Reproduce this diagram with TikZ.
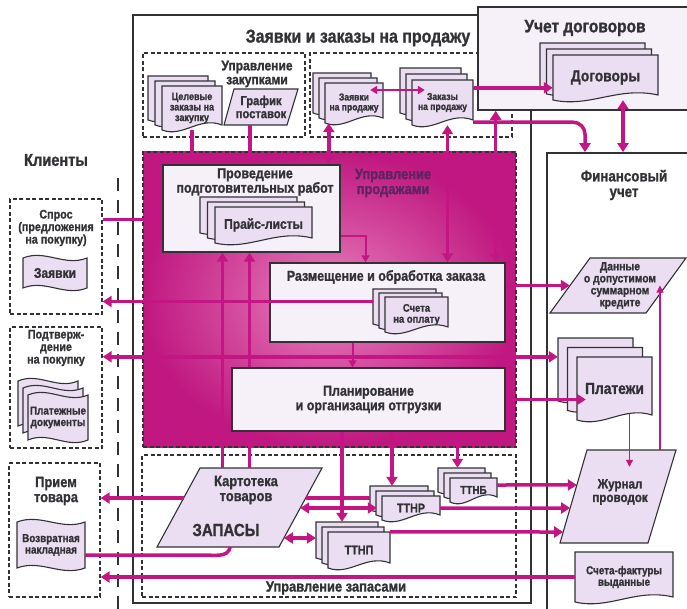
\documentclass[tikz,border=0pt]{standalone}
\usepackage{fontspec}
\setmainfont{Liberation Sans Bold}[FakeStretch=0.86, FakeBold=1.2]
\usepackage{tikz}
\usetikzlibrary{arrows.meta,calc,positioning}
\definecolor{mag}{RGB}{196,22,130}
\definecolor{magD}{RGB}{192,24,128}
\definecolor{magL}{RGB}{232,128,190}
\definecolor{lav}{RGB}{236,222,242}
\definecolor{lavL}{RGB}{246,240,249}
\definecolor{ink}{RGB}{50,50,54}
\definecolor{plum}{RGB}{92,36,96}
\newcommand{\fs}[1]{\fontsize{#1}{#1}\selectfont}
\tikzset{
  sheet/.style={ draw=ink, fill=lav, line width=1.1pt }
}
\tikzset{
  doclbl/.style={ inner sep=0pt, align=center, text=ink }
}
\tikzset{
  lbl/.style={ inner sep=0pt, align=center, text=ink }
}
\tikzset{
  procbox/.style={ draw=ink, fill=lavL, line width=1.4pt, inner sep=0pt }
}
\tikzset{
  dashbox/.style={ draw=ink, dash pattern=on 4pt off 2.5pt, line width=1.3pt, inner sep=0pt }
}
\tikzset{
  frame/.style={ draw=ink, line width=1.6pt, inner sep=0pt }
}
\tikzset{
  clientline/.style={ draw=ink, dash pattern=on 13pt off 9pt, line width=1.5pt }
}
\tikzset{
  lnk/.style={ draw=mag, line width=3.5pt },
  arr/.style={ lnk, -{Triangle[length=9pt,width=11pt]} },
  arrd/.style={ lnk, {Triangle[length=9pt,width=11pt]}-{Triangle[length=9pt,width=11pt]} },
  arrm/.style={ draw=mag, line width=2pt, -{Triangle[length=7pt,width=8pt]} },
  arrmd/.style={ draw=mag, line width=2pt, {Triangle[length=7pt,width=8pt]}-{Triangle[length=7pt,width=8pt]} },
  arrt/.style={ draw=mag, line width=1.2pt, -{Triangle[length=7pt,width=7pt]} }
}
% one sheet with a wavy bottom edge
\newcommand{\docsheet}[4]{%
  \filldraw[sheet] (#1,#2) -- (#3,#2) -- (#3,{#4-5})
    .. controls ({#1+0.62*(#3-#1)},{#4-14}) and ({#1+0.35*(#3-#1)},{#4+8}) .. (#1,#4) -- cycle;}
% three sheets: name, x1, y1, x2, y2, dx, dy, size, text
\newcommand{\docstack}[9]{%
  \foreach \k in {2,1}{%
    \begin{scope}[shift={({-\k*#6},{-\k*#7})}]
      \docsheet{#2}{#3}{#4}{#5}
    \end{scope}}
  \docsheet{#2}{#3}{#4}{#5}
  \node[doclbl, font=\fs{#8}, minimum width={(#4-#2)*1pt}, minimum height={(#5-#3)*1pt}]
    (#1) at ({(#2+#4)/2},{(#3+#5)/2}) {#9};}
% punched tape
\newcommand{\tapesheet}[4]{%
  \filldraw[sheet] (#1,#2) .. controls ({#1+0.35*(#3-#1)},{#2-9}) and ({#1+0.65*(#3-#1)},{#2+9}) .. (#3,#2)
    -- (#3,#4) .. controls ({#1+0.65*(#3-#1)},{#4+9}) and ({#1+0.35*(#3-#1)},{#4-9}) .. (#1,#4) -- cycle;}

\begin{document}
\begin{tikzpicture}[x=1pt,y=-1pt]
  \useasboundingbox (0,0) rectangle (687,609);
  \clip (0,0) rectangle (687,609);

  % frames
  \node[frame, minimum width=152pt, minimum height=470pt] (fin) at (623,388) {};
  \draw[frame] (133,15) rectangle (531,603);
  \node[dashbox, minimum width=162pt, minimum height=84pt] (zakup) at (224,95) {};
  \node[dashbox, minimum width=202pt, minimum height=84pt] (prodzak) at (411,95) {};
  \shade[inner color=magL, outer color=magD] (143,152) rectangle (516,447);
  \node[dashbox, minimum width=373pt, minimum height=295pt] (prodaji) at (329.5,299.5) {};
  \node[dashbox, minimum width=374pt, minimum height=142pt] (zapasy) at (329,526) {};
  \node[frame, fill=lavL, minimum width=212pt, minimum height=103pt] (uchet) at (584,58.5) {};

  % clients
  \node[dashbox, minimum width=92pt, minimum height=115pt] (spros) at (56,256.5) {};
  \node[dashbox, minimum width=92pt, minimum height=121pt] (podtv) at (56,387.5) {};
  \node[dashbox, minimum width=91pt, minimum height=134pt] (priem) at (54.5,530) {};
  \draw[clientline] (118,178) -- (118,609);

  % titles
  \node[lbl, font=\fs{18.5}] (ttl) at (358,38) {Заявки и заказы на продажу};
  \node[lbl, font=\fs{18}] (uchetttl) at (585,28) {Учет договоров};
  \node[lbl, font=\fs{17}] (klient) at (56,160) {Клиенты};
  \node[lbl, font=\fs{14}] (zakupttl) at (257,74) {Управление\\закупками};
  \node[lbl, font=\fs{15}, text=plum] (prodttl) at (393,183) {Управление\\продажами};
  \node[lbl, font=\fs{15}] (zapttl) at (336,588) {Управление запасами};
  \node[lbl, font=\fs{15.5}] (finttl) at (624,185) {Финансовый\\учет};
  \node[lbl, font=\fs{12.5}] (sprosttl) at (56,228) {Спрос\\(предложения\\на покупку)};
  \node[lbl, font=\fs{12.5}] (podtvttl) at (56,348) {Подтверж-\\дение\\на покупку};
  \node[lbl, font=\fs{15}] (priemttl) at (56,491) {Прием\\товара};

  % process boxes
  \node[procbox, minimum width=177pt, minimum height=87pt] (prov) at (251.5,208.5) {};
  \node[lbl, font=\fs{14.5}] (provttl) at (255,182) {Проведение\\подготовительных работ};
  \node[procbox, minimum width=235pt, minimum height=79pt] (razm) at (387.5,302.5) {};
  \node[lbl, font=\fs{14.5}] (razmttl) at (386,277) {Размещение и обработка заказа};
  \node[procbox, minimum width=273pt, minimum height=63pt, font=\fs{14.5}, text=ink, align=center]
    (plan) at (368.5,399.5) {Планирование\\и организация отгрузки};

  % documents
  \docstack{celzak}{162}{86}{222}{130}{7}{5}{10.5}{Целевые\\заказы на\\закупку}
  \docstack{zayprod}{325}{83}{383}{123}{6}{5}{10}{Заявки\\на продажу}
  \docstack{zakprod}{412}{80}{473}{125}{6}{6}{10}{Заказы\\на продажу}
  \docstack{dogovory}{553}{55}{658}{100}{6.5}{6}{16}{Договоры}
  \docstack{price}{215}{207}{312}{243}{7.5}{5}{14}{Прайс-листы}
  \docstack{scheta}{385}{297}{448}{332}{6}{4}{11}{Счета\\на оплату}
  \docstack{platezhi}{577}{357}{652}{420}{9.5}{9.5}{16}{Платежи}
  \docstack{ttnp}{328}{532}{390}{568}{6}{5}{12.5}{ТТНП}
  \docstack{ttnr}{382}{496}{440}{520}{6}{5}{12.5}{ТТНР}
  \docstack{ttnb}{450}{478}{497}{502}{6}{5}{11.5}{ТТНБ}
  \docsheet{575}{552}{673}{602}
  \node[doclbl, font=\fs{11.5}, minimum width=98pt, minimum height=50pt] (schetf) at (624,577) {Счета-фактуры\\выданные};

  % parallelograms
  \coordinate (g-nw) at (234,89); \coordinate (g-ne) at (298,89);
  \coordinate (g-se) at (287,125); \coordinate (g-sw) at (224,125);
  \filldraw[sheet] (g-nw) -- (g-ne) -- (g-se) -- (g-sw) -- cycle;
  \node[doclbl, font=\fs{13}, minimum width=60pt, minimum height=36pt] (grafik) at (261,107) {График\\поставок};

  \coordinate (c-nw) at (590,258); \coordinate (c-ne) at (686,258);
  \coordinate (c-se) at (646,313); \coordinate (c-sw) at (550,313);
  \filldraw[sheet] (c-nw) -- (c-ne) -- (c-se) -- (c-sw) -- cycle;
  \node[doclbl, font=\fs{12}, minimum width=100pt, minimum height=55pt] (kredit) at (620,285.5) {Данные\\о допустимом\\суммарном\\кредите};

  \coordinate (j-nw) at (587,450); \coordinate (j-ne) at (676,450);
  \coordinate (j-se) at (648,543); \coordinate (j-sw) at (560,543);
  \filldraw[sheet] (j-nw) -- (j-ne) -- (j-se) -- (j-sw) -- cycle;
  \node[doclbl, font=\fs{13.5}, minimum width=80pt, minimum height=50pt] (zhurnal) at (620,492) {Журнал\\проводок};

  \coordinate (k-nw) at (200,468); \coordinate (k-ne) at (322,468);
  \coordinate (k-se) at (279,547); \coordinate (k-sw) at (157,547);
  \filldraw[sheet] (k-nw) -- (k-ne) -- (k-se) -- (k-sw) -- cycle;
  \node[minimum width=165pt, minimum height=79pt, inner sep=0pt] (kart) at (239.5,507.5) {};
  \node[lbl, font=\fs{15}] (kartttl) at (246,490) {Картотека\\товаров};
  \node[lbl, font=\fs{17.5}] (zapas) at (226,530) {ЗАПАСЫ};

  % tapes
  \tapesheet{23}{258}{87}{288}
  \node[doclbl, font=\fs{14}, minimum width=64pt, minimum height=30pt] (zayavki) at (55,273) {Заявки};
  \foreach \k in {2,1}{%
    \begin{scope}[shift={({-5*\k},{-7*\k})}]
      \tapesheet{28}{395}{88}{440}
    \end{scope}}
  \tapesheet{28}{395}{88}{440}
  \node[doclbl, font=\fs{11.5}, minimum width=60pt, minimum height=45pt] (platdoc) at (58,417.5) {Платежные\\документы};
  \tapesheet{17}{522}{85}{568}
  \node[doclbl, font=\fs{11.5}, minimum width=68pt, minimum height=46pt] (vozvrat) at (51,545) {Возвратная\\накладная};

  % connectors, top part
  \draw[arr] (celzak.south) -- (celzak.south |- prov.north);
  \draw[arr] ([xshift=-11pt]grafik.south) -- ([xshift=-11pt]grafik.south |- prov.north);
  \draw[arrd] ([xshift=4pt]zayprod.south west) -- ([xshift=4pt]zayprod.south west |- prov.north);
  \draw[arrd] ([xshift=5pt]zakprod.south) -- ([xshift=5pt]zakprod.south |- razm.north);
  \draw[arrd] ([xshift=-10pt]razm.north east) -- ([xshift=-10pt]razm.north east |- uchet.south);
  \draw[arrmd] ([xshift=-13pt,yshift=13pt]zayprod.east) coordinate (zz) -- ([xshift=13pt]zakprod.west |- zz);
  \draw[arr] ([yshift=-8pt]zakprod.north east) -- ([yshift=-8pt]zakprod.north east -| dogovory.west);
  \draw[arr, rounded corners=12pt] ([yshift=3pt]zakprod.south east) -| ([xshift=-38pt]fin.north);
  \draw[arrd] (dogovory.south -| fin.north) -- (fin.north);

  % connectors, sales
  \draw[arr] ([yshift=-11pt]prov.west -| spros.east) -- ([yshift=-11pt]prov.west);
  \draw[arr] ([xshift=-12pt,yshift=13pt]scheta.west) coordinate (sc) -- (sc -| spros.east);
  \draw[arrd] (platezhi.north west -| podtv.east) -- ([xshift=-19pt]platezhi.north west);
  \draw[arrd] (razm.east |- kredit.west) -- (kredit.west);
  \draw[arr] (plan.east) -- ([xshift=9pt]plan.east -| platezhi.west);
  \draw[arrt] ([xshift=15pt,yshift=6pt]platezhi.south) -- ([xshift=15pt]platezhi.south |- zhurnal.north);
  \draw[arrt] ([xshift=40pt,yshift=17pt]zhurnal.north) -- ([xshift=40pt]zhurnal.north |- kredit.center);
  \draw[arr] ([xshift=-17pt]kart.north) -- ([xshift=-17pt]kart.north |- prov.south);
  \draw[arr] ([xshift=10pt]kart.north) -- ([xshift=10pt]kart.north |- plan.south);
  \draw[arr] ([xshift=10pt]kart.north |- plan.north) -- ([xshift=10pt]kart.north |- prov.south);
  \draw[arrm] ([yshift=-28pt]prov.east) -| ([xshift=-22pt]razm.north);
  \draw[arrm] ([xshift=-35pt]razm.south) -- ([xshift=-35pt]razm.south |- plan.north);

  % connectors, stock
  \draw[arr] ([xshift=-17pt]ttnp.north |- plan.south) -- ([xshift=-17pt,yshift=10pt]ttnp.north);
  \draw[arr] ([xshift=-19pt]ttnr.north |- plan.south) -- ([xshift=-19pt,yshift=10pt]ttnr.north);
  \draw[arr] ([xshift=-16pt]ttnb.north |- plan.south) -- ([xshift=-16pt,yshift=10pt]ttnb.north);
  \draw[arrd] ($(k-ne)!.886!(k-se)$) coordinate (kp) -- ([xshift=-12pt]ttnp.west |- kp);
  \draw[arrd] ($(k-ne)!.506!(k-se)$) coordinate (kr) -- ([xshift=-5pt]ttnr.west |- kr);
  \draw[lnk] ($(k-ne)!.38!(k-se)$) coordinate (kr2) -- ([xshift=-12pt]ttnr.west |- kr2);
  \draw[arr] ($(k-nw)!.38!(k-sw)$) coordinate (kl) -- (kl -| priem.east);
  \draw[lnk] ([yshift=-10pt]vozvrat.east) -- ++(118,0) to[out=0,in=-100] ($(k-sw)!.6!(k-se)$);
  \draw[arr] (schetf.west) -- (schetf.west -| priem.east);
  \draw[arr] ([yshift=5pt]ttnb.east) -- ($(j-nw)!.376!(j-sw)$);
  \draw[arr] (ttnr.east) -- ($(j-nw)!.624!(j-sw)$);
  \draw[arr] (ttnp.north east) -- ($(j-nw)!.882!(j-sw)$);
\end{tikzpicture}
\end{document}
